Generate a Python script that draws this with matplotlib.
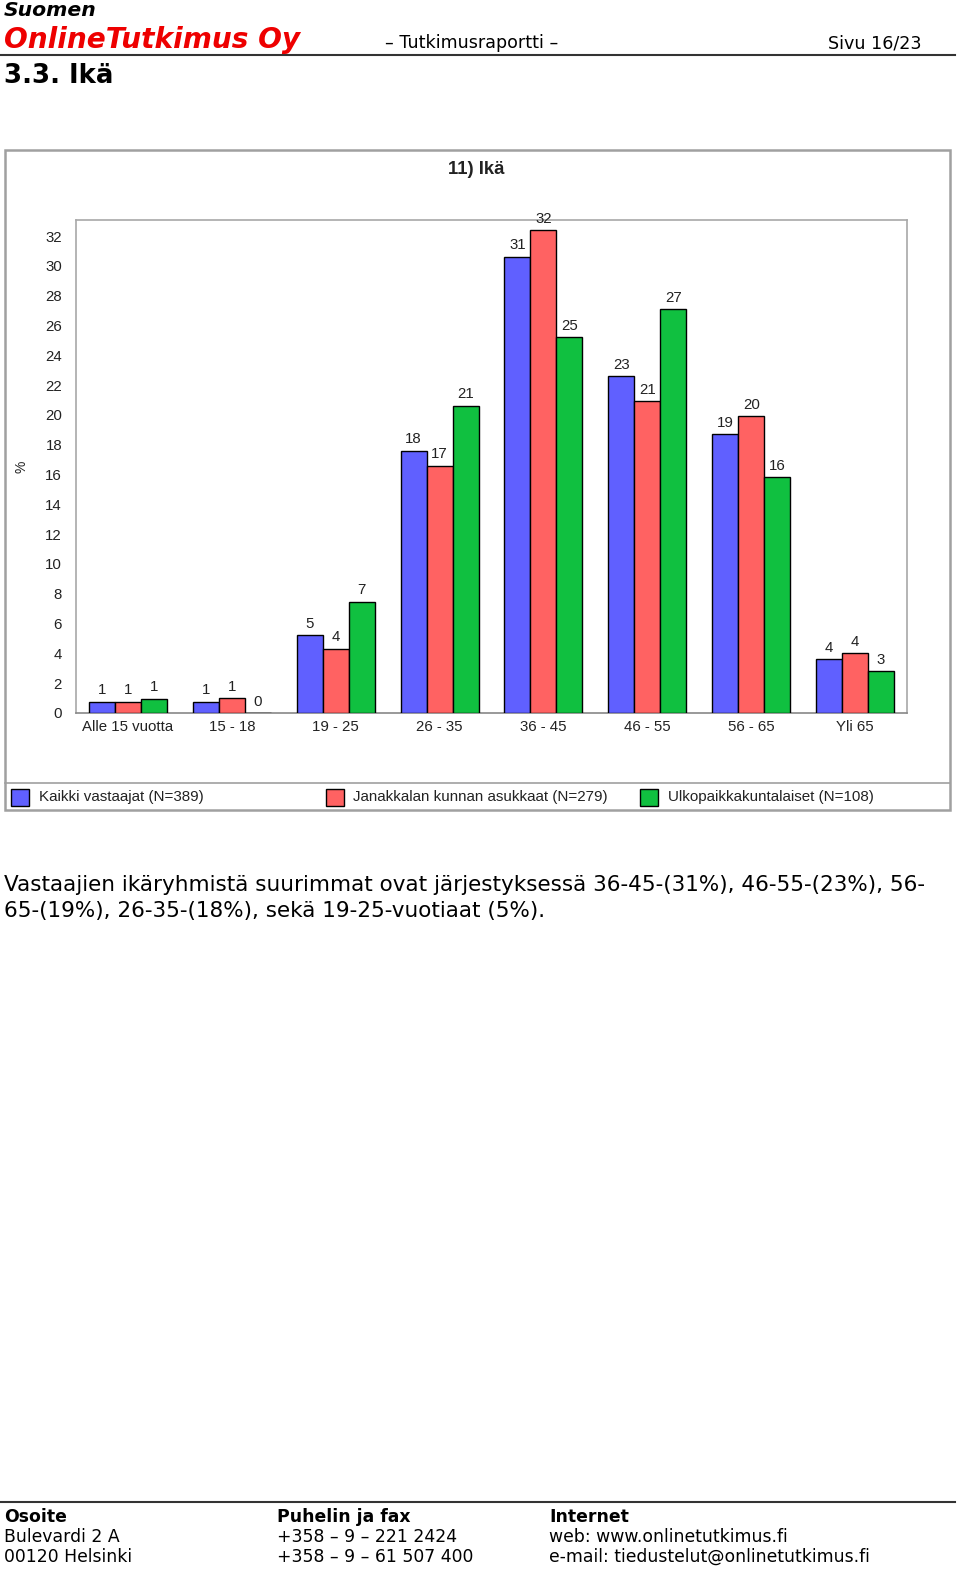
import matplotlib
matplotlib.use("Agg")
import matplotlib.pyplot as plt
from matplotlib.patches import Rectangle
from matplotlib.lines import Line2D
import numpy as np

categories = ["Alle 15 vuotta", "15 - 18", "19 - 25", "26 - 35", "36 - 45", "46 - 55", "56 - 65", "Yli 65"]
series_names = ["Kaikki vastaajat (N=389)", "Janakkalan kunnan asukkaat (N=279)", "Ulkopaikkakuntalaiset (N=108)"]
kaikki = [0.75, 0.75, 5.2, 17.6, 30.6, 22.6, 18.7, 3.6]
janakkala = [0.75, 1.0, 4.3, 16.6, 32.4, 20.9, 19.9, 4.0]
ulko = [0.95, 0.0, 7.45, 20.6, 25.2, 27.1, 15.8, 2.8]
series_values = [kaikki, janakkala, ulko]
yticks = list(range(0, 33, 2))

colors = ["#6060FF", "#FF6262", "#10C040"]

W, H = 960, 1576
fig = plt.figure(figsize=(W / 100, H / 100), dpi=100)

def fx(x):
    return x / W

def fy(y):
    return 1 - y / H

hdr = "DejaVu Sans"
chart_font = "Liberation Sans"

# Header
fig.text(fx(4), fy(10), "Suomen", fontsize=14.7, fontweight="bold", fontstyle="italic",
         family=hdr, va="center", ha="left", color="black")
fig.text(fx(4), fy(40), "OnlineTutkimus Oy", fontsize=20.2, fontweight="bold", fontstyle="italic",
         family=hdr, va="center", ha="left", color="#EE0000")
fig.text(fx(385), fy(43), "– Tutkimusraportti –", fontsize=12.6, family=hdr, va="center", ha="left")
fig.text(fx(922), fy(43), "Sivu 16/23", fontsize=12.6, family=hdr, va="center", ha="right")
fig.add_artist(Line2D([fx(0), fx(955)], [fy(55), fy(55)], color="#333333", lw=1.5))
fig.text(fx(4), fy(76), "3.3. Ikä", fontsize=18.7, fontweight="bold", family=hdr, va="center", ha="left")

# Chart outer box
fig.add_artist(Rectangle((fx(5), fy(810)), fx(950) - fx(5), fy(150) - fy(810), transform=fig.transFigure,
                         fill=False, edgecolor="#A0A0A0", lw=1.8))
fig.add_artist(Line2D([fx(5), fx(950)], [fy(783), fy(783)], color="#A0A0A0", lw=1.2))
fig.text(fx(476), fy(170), "11) Ikä", fontsize=13.3, fontweight="bold", family=chart_font,
         va="center", ha="center", color="#222222")

# Axes
ax = fig.add_axes([fx(76), fy(713), fx(907) - fx(76), fy(220) - fy(713)])
x = np.arange(len(categories))
bw = 0.25
for i, (vals, c) in enumerate(zip(series_values, colors)):
    pos = x + (i - 1) * bw
    ax.bar(pos, vals, width=bw, color=c, edgecolor="black", linewidth=1.0, zorder=3)
    for p, v in zip(pos, vals):
        ax.text(p, v + 0.3, f"{v:.0f}", ha="center", va="bottom", fontsize=10.8,
                family=chart_font, color="#222222", zorder=4)

ax.set_xlim(-0.5, len(categories) - 0.5)
ax.set_ylim(0, (713 - 220) / ((713 - 236) / 32))
ax.set_yticks(yticks)
ax.set_yticklabels([str(t) for t in yticks], fontsize=10.8, family=chart_font, color="#222222")
ax.set_xticks(x)
ax.set_xticklabels(categories, fontsize=10.8, family=chart_font, color="#222222")
ax.tick_params(axis="both", length=0)
ax.tick_params(axis="y", pad=10)
ax.tick_params(axis="x", pad=5)
for s in ax.spines.values():
    s.set_color("#A8A8A8")
    s.set_linewidth(1.2)
ax.spines["bottom"].set_color("#888888")
fig.text(fx(22), fy(467), "%", rotation=90, fontsize=10, family=chart_font, va="center", ha="center",
         color="#222222")

# Legend (manual)
leg_sq_x = [11, 326, 640]
leg_tx_x = [39, 353, 668]
for sx, tx, name, c in zip(leg_sq_x, leg_tx_x, series_names, colors):
    fig.add_artist(Rectangle((fx(sx), fy(806)), fx(18), 17 / H, transform=fig.transFigure,
                             facecolor=c, edgecolor="black", lw=1.0))
    fig.text(fx(tx), fy(797), name, fontsize=10.9, family=chart_font, va="center", ha="left",
             color="#222222")

# Body text
fig.text(fx(4), fy(885), "Vastaajien ikäryhmistä suurimmat ovat järjestyksessä 36-45-(31%), 46-55-(23%), 56-",
         fontsize=15.5, family=hdr, va="center", ha="left")
fig.text(fx(4), fy(911), "65-(19%), 26-35-(18%), sekä 19-25-vuotiaat (5%).",
         fontsize=15.5, family=hdr, va="center", ha="left")

# Footer
fig.add_artist(Line2D([fx(0), fx(955)], [fy(1502), fy(1502)], color="#333333", lw=1.5))
cols = [4, 277, 549]
rows = [["Osoite", "Bulevardi 2 A", "00120 Helsinki"],
        ["Puhelin ja fax", "+358 – 9 – 221 2424", "+358 – 9 – 61 507 400"],
        ["Internet", "web: www.onlinetutkimus.fi", "e-mail: tiedustelut@onlinetutkimus.fi"]]
for cx, lines in zip(cols, rows):
    for j, (ly, t) in enumerate(zip([1517, 1537, 1557], lines)):
        fig.text(fx(cx), fy(ly), t, fontsize=12.4, family=hdr, va="center", ha="left",
                 fontweight="bold" if j == 0 else "normal")

fig.savefig("out.png", dpi=100, facecolor="white")
